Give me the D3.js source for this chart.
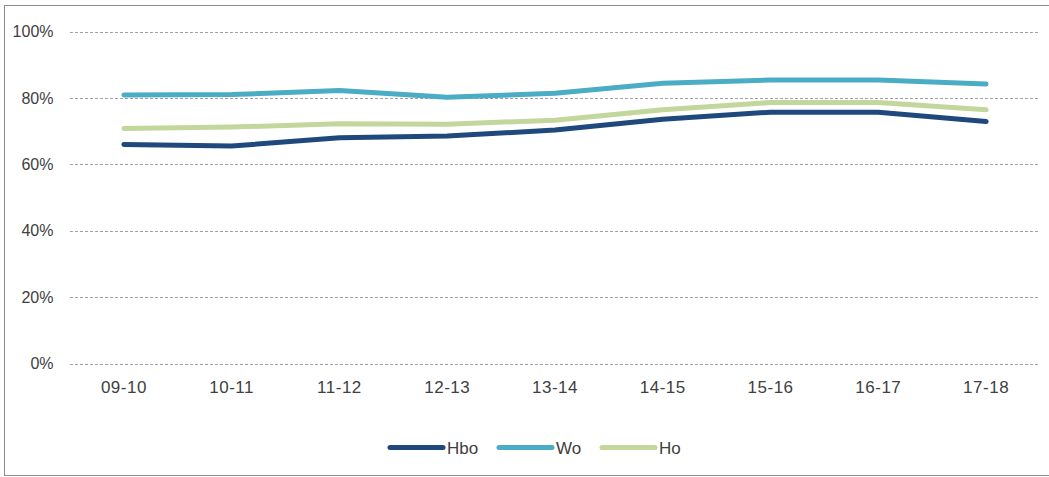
<!DOCTYPE html>
<html><head><meta charset="utf-8">
<script src="https://cdn.jsdelivr.net/npm/d3@7"></script>
<style>body{margin:0;background:#fff}svg{display:block}</style>
</head><body><svg id="c" width="1049" height="477"></svg>
<script>
const categories = ["09-10","10-11","11-12","12-13","13-14","14-15","15-16","16-17","17-18"];
const hbo = [66.0, 65.5, 68.0, 68.5, 70.3, 73.6, 75.7, 75.7, 72.9];
const wo  = [80.9, 81.0, 82.2, 80.2, 81.4, 84.4, 85.4, 85.4, 84.2];
const ho  = [70.8, 71.2, 72.2, 72.1, 73.3, 76.4, 78.6, 78.6, 76.4];
const yTicks = [0, 20, 40, 60, 80, 100];
const seriesNames = ["Hbo","Wo","Ho"];
const seriesColors = ["#1F497D","#4BACC6","#C3D69B"];
const seriesData = [hbo, wo, ho];

(function(){
const svg = d3.select("#c");
const font = "'Liberation Sans', Arial, sans-serif";
svg.append("rect").attr("x",4.5).attr("y",5.5).attr("width",1060).attr("height",470)
  .attr("fill","none").attr("stroke","#8c8c8c").attr("stroke-width",1);

const pl = 70, pr = 1040, pt = 31.5, pb = 363.5;
const x = d3.scalePoint().domain(categories).range([pl, pr]).padding(0.5);
const y = d3.scaleLinear().domain([0,100]).range([pb, pt]);

const gy = svg.append("g");
yTicks.forEach(t => {
  gy.append("line").attr("x1",pl).attr("x2",pr).attr("y1",Math.round(y(t))+0.5).attr("y2",Math.round(y(t))+0.5)
    .attr("stroke","#a0a0a0").attr("stroke-width",1).attr("stroke-dasharray","3,2");
  gy.append("text").attr("x",53.5).attr("y",y(t)).attr("dy","0.36em").attr("text-anchor","end")
    .attr("font-family",font).attr("font-size",16).attr("fill","#404040").text(t+"%");
});
categories.forEach(c => {
  svg.append("text").attr("x",x(c)).attr("y",387).attr("dy","0.36em").attr("text-anchor","middle")
    .attr("font-family",font).attr("font-size",17).attr("letter-spacing","0.5px").attr("fill","#404040").text(c);
});

const line = d3.line().x((d,i)=>x(categories[i])).y(d=>y(d));
seriesData.forEach((s,k)=>{
  svg.append("path").attr("d",line(s)).attr("fill","none").attr("stroke",seriesColors[k])
    .attr("stroke-width",5).attr("stroke-linecap","round").attr("stroke-linejoin","round");
});

const legX = [390, 499, 602];
seriesNames.forEach((n,k)=>{
  svg.append("line").attr("x1",legX[k]).attr("x2",legX[k]+53).attr("y1",447.5).attr("y2",447.5)
    .attr("stroke",seriesColors[k]).attr("stroke-width",5).attr("stroke-linecap","round");
  svg.append("text").attr("x",legX[k]+57).attr("y",448).attr("dy","0.36em")
    .attr("font-family",font).attr("font-size",17).attr("fill","#404040").text(n);
});
})();
</script></body></html>
